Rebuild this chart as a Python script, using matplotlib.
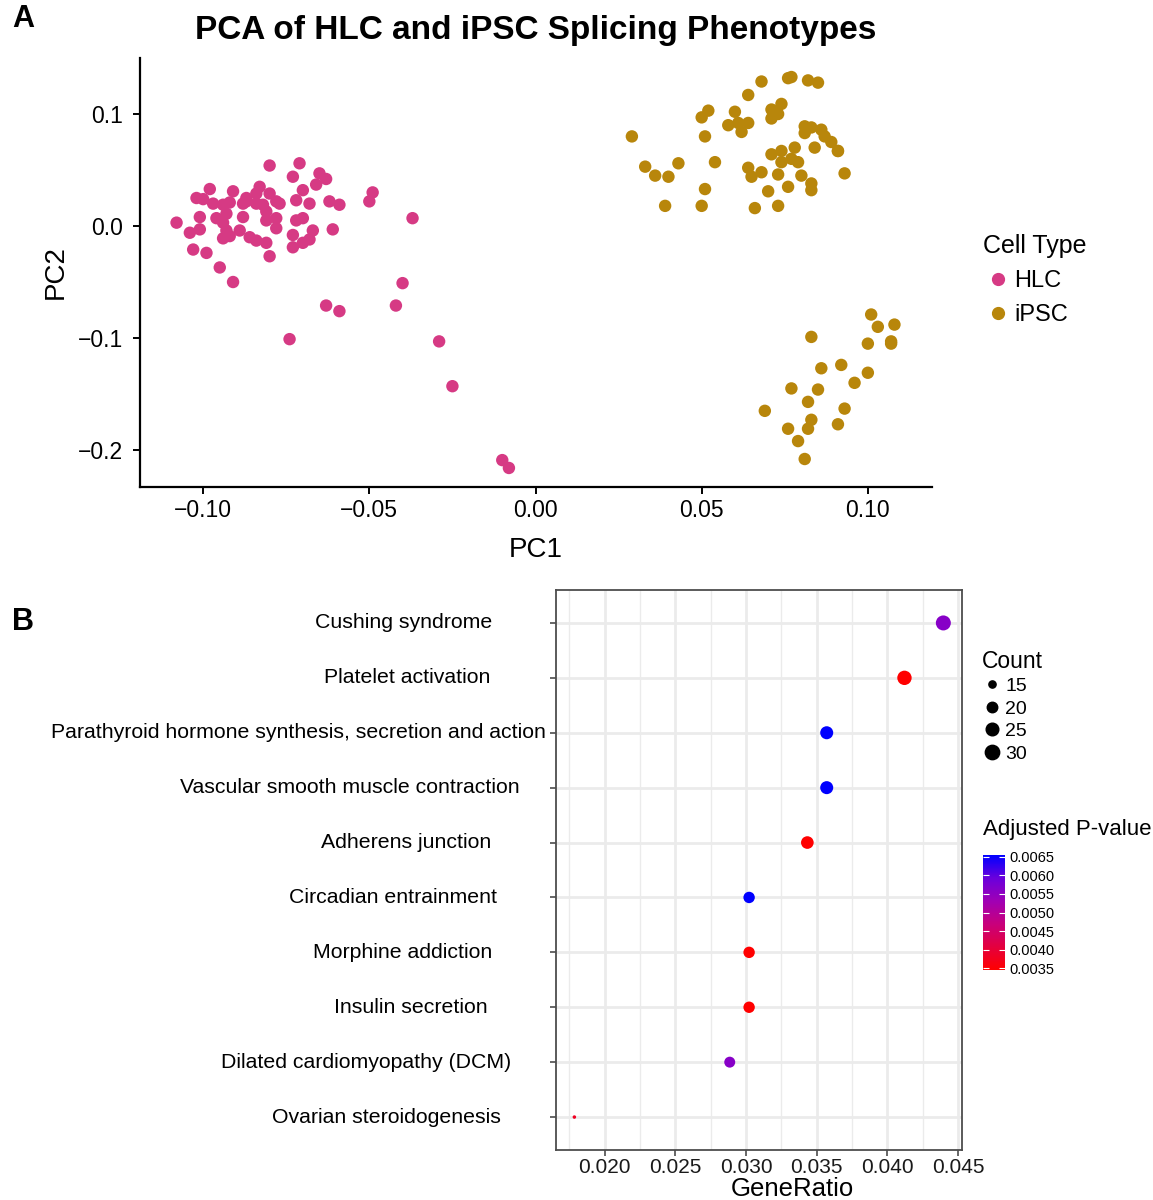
import numpy as np
import matplotlib.pyplot as plt
from matplotlib.colors import LinearSegmentedColormap, Normalize
from matplotlib.lines import Line2D
import matplotlib.cm as cm

plt.rcParams['font.family'] = ['Liberation Sans', 'DejaVu Sans']

# ---- Panel A: PCA scores ----
hlc_pc1 = [-0.108, -0.104, -0.101, -0.103, -0.099, -0.095, -0.091, -0.101, -0.102, -0.100,
           -0.098, -0.097, -0.096, -0.094, -0.092, -0.093, -0.094, -0.093, -0.094, -0.092,
           -0.089, -0.088, -0.091, -0.088, -0.087, -0.087, -0.084, -0.083, -0.084, -0.080,
           -0.080, -0.082, -0.081, -0.081, -0.078, -0.077, -0.078, -0.078, -0.086, -0.084,
           -0.081, -0.080, -0.073, -0.071, -0.070, -0.072, -0.068, -0.072, -0.070, -0.073,
           -0.073, -0.070, -0.067, -0.068, -0.065, -0.066, -0.063, -0.062, -0.059, -0.061,
           -0.049, -0.050, -0.037, -0.040, -0.042, -0.063, -0.059, -0.074, -0.029, -0.025,
           -0.010, -0.008]
hlc_pc2 = [0.003, -0.006, -0.003, -0.021, -0.024, -0.037, -0.050, 0.008, 0.025, 0.024,
           0.033, 0.020, 0.007, 0.019, 0.021, 0.011, 0.003, -0.004, -0.011, -0.009,
           -0.004, 0.008, 0.031, 0.020, 0.025, 0.022, 0.020, 0.035, 0.029, 0.029,
           0.054, 0.019, 0.013, 0.005, 0.022, 0.020, 0.007, -0.002, -0.010, -0.013,
           -0.015, -0.027, 0.044, 0.056, 0.032, 0.023, 0.020, 0.005, 0.007, -0.008,
           -0.019, -0.015, -0.004, -0.012, 0.047, 0.037, 0.042, 0.022, 0.019, -0.003,
           0.030, 0.022, 0.007, -0.051, -0.071, -0.071, -0.076, -0.101, -0.103, -0.143,
           -0.209, -0.216]

ipsc_pc1 = [0.029, 0.033, 0.036, 0.040, 0.043, 0.039, 0.050, 0.052, 0.051, 0.054,
            0.051, 0.050, 0.058, 0.060, 0.061, 0.062, 0.064, 0.064, 0.068, 0.064,
            0.065, 0.068, 0.066, 0.070, 0.071, 0.074, 0.073, 0.071, 0.071, 0.074,
            0.074, 0.073, 0.073, 0.076, 0.076, 0.077, 0.078, 0.077, 0.079, 0.080,
            0.081, 0.083, 0.081, 0.082, 0.085, 0.084, 0.083, 0.083, 0.086, 0.087,
            0.089, 0.091, 0.091, 0.093,
            0.101, 0.103, 0.108, 0.107, 0.107, 0.100, 0.083, 0.086, 0.092, 0.100,
            0.096, 0.077, 0.085, 0.082, 0.093, 0.069, 0.083, 0.082, 0.076, 0.091,
            0.079, 0.081]
ipsc_pc2 = [0.080, 0.053, 0.045, 0.044, 0.056, 0.018, 0.097, 0.103, 0.080, 0.057,
            0.033, 0.018, 0.090, 0.102, 0.092, 0.084, 0.092, 0.117, 0.129, 0.052,
            0.044, 0.048, 0.016, 0.031, 0.104, 0.109, 0.100, 0.096, 0.064, 0.067,
            0.057, 0.046, 0.018, 0.035, 0.132, 0.133, 0.070, 0.060, 0.057, 0.045,
            0.089, 0.088, 0.083, 0.130, 0.128, 0.070, 0.038, 0.032, 0.086, 0.080,
            0.075, 0.067, 0.067, 0.047,
            -0.079, -0.090, -0.088, -0.103, -0.105, -0.105, -0.099, -0.127, -0.124, -0.131,
            -0.140, -0.145, -0.146, -0.157, -0.163, -0.165, -0.173, -0.181, -0.181, -0.177,
            -0.192, -0.208]

# ---- Panel B: KEGG enrichment ----
pathways = ['Ovarian steroidogenesis', 'Dilated cardiomyopathy (DCM)', 'Insulin secretion',
            'Morphine addiction', 'Circadian entrainment', 'Adherens junction',
            'Vascular smooth muscle contraction',
            'Parathyroid hormone synthesis, secretion and action',
            'Platelet activation', 'Cushing syndrome']
gene_ratio = [0.01786, 0.02885, 0.03022, 0.03022, 0.03022, 0.03434, 0.03571, 0.03571,
              0.04121, 0.04396]
gene_count = [13, 21, 22, 22, 22, 25, 26, 26, 30, 32]
p_adjust = [0.0038, 0.0056, 0.00345, 0.00345, 0.00655, 0.00345, 0.00655, 0.00655, 0.00345, 0.0056]

hlc_col = '#D63A84'
ipsc_col = '#B8860B'

fig = plt.figure(figsize=(11.53, 12), dpi=100)
W, H = 1153, 1200

def fax(l, t, r, b):
    return fig.add_axes([l / W, 1 - b / H, (r - l) / W, (b - t) / H])

# ---------- A ----------
ax = fax(140, 58, 932, 487)
ax.scatter(hlc_pc1, hlc_pc2, s=80, color=hlc_col, edgecolors='none', label='HLC', zorder=3)
ax.scatter(ipsc_pc1, ipsc_pc2, s=80, color=ipsc_col, edgecolors='none', label='iPSC', zorder=3)
ax.set_xlim(-0.119, 0.1193)
ax.set_ylim(-0.233, 0.15)
ax.set_xticks([-0.10, -0.05, 0.00, 0.05, 0.10])
ax.set_xticklabels(['\u22120.10', '\u22120.05', '0.00', '0.05', '0.10'])
ax.set_yticks([-0.2, -0.1, 0.0, 0.1])
ax.set_yticklabels(['\u22120.2', '\u22120.1', '0.0', '0.1'])
for s in ['top', 'right']:
    ax.spines[s].set_visible(False)
for s in ['left', 'bottom']:
    ax.spines[s].set_linewidth(1.6)
ax.tick_params(length=5, width=1.4, labelsize=16.5, colors='black')
ax.tick_params(axis='y', pad=7)
ax.set_xlabel('PC1', fontsize=20, labelpad=11)
ax.set_ylabel('PC2', fontsize=20, labelpad=7)
ax.set_title('PCA of HLC and iPSC Splicing Phenotypes', fontsize=24, fontweight='bold', pad=14)

leg = fig.legend(handles=[Line2D([], [], marker='o', ls='none', color=hlc_col, markersize=8.5),
                          Line2D([], [], marker='o', ls='none', color=ipsc_col, markersize=8.5)],
                 labels=['HLC', 'iPSC'], title='Cell Type', loc='upper left',
                 bbox_to_anchor=(974 / W, 1 - 225 / H), frameon=False, fontsize=17,
                 title_fontsize=18, handlelength=1.2, handletextpad=0.1, labelspacing=0.5,
                 borderaxespad=0)
leg._legend_box.align = 'left'

fig.text(12 / W, 1 - 19 / H, 'A', fontsize=22, fontweight='bold', va='center', ha='left')
fig.text(12 / W, 1 - 622 / H, 'B', fontsize=22, fontweight='bold', va='center', ha='left')

# ---------- B ----------
bx = fax(556, 590, 962, 1150)
stops = ['#FF0000', '#E4003E', '#C8007C', '#A000B4', '#6A00DC', '#0000FF']
cmap = LinearSegmentedColormap.from_list('rb', stops)
norm = Normalize(vmin=min(p_adjust), vmax=max(p_adjust))

cmin, cmax = 13, 32
def diam(c):
    return 3.5 + 11.5 * np.sqrt((np.asarray(c, float) - cmin) / (cmax - cmin))

ypos = np.arange(1, len(pathways) + 1)
bx.scatter(gene_ratio, ypos, s=(diam(gene_count) * 0.72) ** 2, c=p_adjust, cmap=cmap,
           norm=norm, edgecolors='none', zorder=3)
bx.set_xlim(0.01656, 0.04528)
bx.set_ylim(0.4, len(pathways) + 0.6)
bx.set_xticks([0.020, 0.025, 0.030, 0.035, 0.040, 0.045])
bx.set_xticklabels(['0.020', '0.025', '0.030', '0.035', '0.040', '0.045'])
bx.set_xticks(np.arange(0.0175, 0.046, 0.005), minor=True)
bx.set_yticks(ypos)
bx.set_yticklabels([])
bx.grid(True, which='major', color='#EBEBEB', lw=2.0, zorder=0)
bx.grid(True, which='minor', axis='x', color='#EBEBEB', lw=1.0, zorder=0)
bx.set_axisbelow(True)
for s in bx.spines.values():
    s.set_color('#4D4D4D')
    s.set_linewidth(1.3)
bx.tick_params(which='major', length=4, width=1.2, color='#4D4D4D', labelsize=15,
               labelcolor='#1A1A1A', pad=2)
bx.tick_params(which='minor', length=0)
fig.text(792 / W, 1 - 1189 / H, 'GeneRatio', fontsize=18.5, ha='center', va='center')

# pathway labels: right ends staggered like the source rendering
labels = [bx.text(0, y, p, fontsize=15.3, ha='right', va='center',
                  transform=bx.get_yaxis_transform()) for p, y in zip(pathways, ypos)]
fig.canvas.draw()
r = fig.canvas.get_renderer()
widths = [t.get_window_extent(r).width for t in labels]
wmax = max(widths)
bb = bx.get_window_extent(r)
for t, w in zip(labels, widths):
    end_px = 546 - 0.17 * (wmax - w)
    t.set_x((end_px - bb.x0) / bb.width)

# Count legend
cnt_vals = [15, 20, 25, 30]
hs = [Line2D([], [], marker='o', ls='none', color='black', markersize=float(diam(v)) * 0.72)
      for v in cnt_vals]
fig.legend(handles=hs, labels=[str(v) for v in cnt_vals], title='Count', loc='upper left',
           bbox_to_anchor=(974 / W, 1 - 642 / H), frameon=False, fontsize=14,
           title_fontsize=16.5, handlelength=1.0, handletextpad=0.2, labelspacing=0.25,
           borderaxespad=0)._legend_box.align = 'left'

# colour bar
cax = fax(983, 855, 1005, 970)
cb = fig.colorbar(cm.ScalarMappable(norm=norm, cmap=cmap), cax=cax)
cb.outline.set_visible(False)
tks = [0.0035, 0.0040, 0.0045, 0.0050, 0.0055, 0.0060, 0.0065]
cb.set_ticks(tks)
cb.set_ticklabels(['%.4f' % v for v in tks])
cax.tick_params(length=4, width=0.8, color='white', direction='in', labelsize=10.5, pad=3,
                right=True, left=True)
fig.text(983 / W, 1 - 829 / H, 'Adjusted P-value', fontsize=16, va='center', ha='left')

fig.savefig('out.png', dpi=100)
